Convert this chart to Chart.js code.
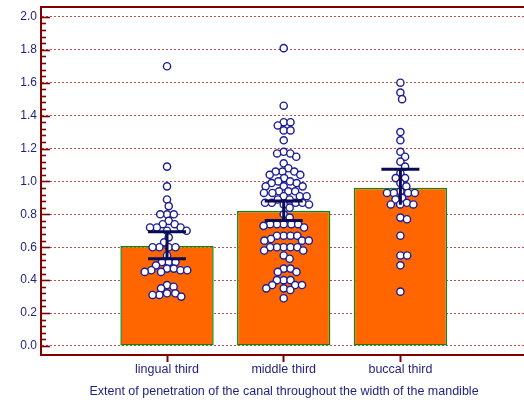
<!DOCTYPE html>
<html><head><meta charset="utf-8">
<script src="https://cdn.jsdelivr.net/npm/chart.js@4.4.0/dist/chart.umd.min.js"></script>
<style>
html,body{margin:0;padding:0;background:#fff;overflow:hidden;}
#wrap{width:540px;height:403px;}
</style></head><body>
<div id="wrap"><canvas id="c" width="540" height="403"></canvas></div>
<script>
const categories = ['lingual third', 'middle third', 'buccal third'];
const meanValues = [0.608, 0.82, 0.962];
const ciLow = [0.53, 0.762, 0.858];
const ciHigh = [0.694, 0.881, 1.074];
const lowerCapShown = [true, true, false];
const lingualValues = [1.70, 1.09, 0.97, 0.89, 0.85, 0.80, 0.80, 0.80, 0.76, 0.74, 0.74, 0.72, 0.72, 0.72, 0.70, 0.70, 0.66, 0.63, 0.60, 0.60, 0.60, 0.60, 0.55, 0.51, 0.51, 0.51, 0.49, 0.47, 0.47, 0.46, 0.46, 0.46, 0.45, 0.45, 0.37, 0.36, 0.35, 0.32, 0.32, 0.31, 0.31, 0.30];
const middleValues = [1.81, 1.46, 1.36, 1.36, 1.34, 1.31, 1.31, 1.25, 1.18, 1.17, 1.17, 1.15, 1.11, 1.08, 1.06, 1.06, 1.06, 1.04, 1.04, 1.02, 1.00, 1.00, 0.99, 0.99, 0.97, 0.97, 0.97, 0.94, 0.94, 0.94, 0.93, 0.93, 0.91, 0.91, 0.91, 0.89, 0.89, 0.87, 0.87, 0.87, 0.87, 0.86, 0.86, 0.84, 0.80, 0.78, 0.74, 0.74, 0.74, 0.74, 0.74, 0.73, 0.72, 0.67, 0.67, 0.67, 0.67, 0.65, 0.64, 0.64, 0.64, 0.60, 0.60, 0.60, 0.60, 0.60, 0.58, 0.58, 0.55, 0.53, 0.47, 0.47, 0.45, 0.45, 0.40, 0.40, 0.40, 0.37, 0.37, 0.37, 0.35, 0.35, 0.34, 0.29];
const buccalValues = [1.60, 1.54, 1.50, 1.30, 1.25, 1.18, 1.15, 1.12, 1.09, 1.05, 1.02, 1.02, 0.99, 0.97, 0.94, 0.93, 0.93, 0.93, 0.93, 0.90, 0.89, 0.87, 0.86, 0.86, 0.86, 0.78, 0.77, 0.67, 0.55, 0.55, 0.49, 0.33];
const groupValues = [lingualValues, middleValues, buccalValues];
const yTickValues = [0, 0.2, 0.4, 0.6, 0.8, 1.0, 1.2, 1.4, 1.6, 1.8, 2.0];
const yMinorStep = 0.04;
const xTitle = 'Extent of penetration of the canal throughout the width of the mandible';

const TEXT = '#1e1e82';
const MAROON = '#800000';
const FONT = "'Liberation Sans', Arial, sans-serif";

const decor = {
  id: 'decor',
  afterDatasetsDraw(chart) {
    const {ctx, scales: {x, y}} = chart;
    ctx.save();
    ctx.strokeStyle = '#0b0b55';
    ctx.lineWidth = 3;
    for (let i = 0; i < categories.length; i++) {
      const cx = x.getPixelForValue(i + 1);
      const yl = y.getPixelForValue(ciLow[i]);
      const yh = y.getPixelForValue(ciHigh[i]);
      ctx.beginPath();
      ctx.moveTo(cx, yl); ctx.lineTo(cx, yh);
      ctx.moveTo(cx - 19, yh); ctx.lineTo(cx + 19, yh);
      if (lowerCapShown[i]) { ctx.moveTo(cx - 19, yl); ctx.lineTo(cx + 19, yl); }
      ctx.stroke();
    }
    ctx.restore();
  },
  afterDraw(chart) {
    const {ctx, chartArea: a, scales: {y}} = chart;
    ctx.save();
    ctx.strokeStyle = MAROON;
    ctx.lineWidth = 2;
    ctx.beginPath();
    ctx.moveTo(a.left - 1, a.top); ctx.lineTo(chart.width, a.top);
    ctx.stroke();
    ctx.lineWidth = 1.6;
    const maxV = yTickValues[yTickValues.length - 1];
    const n = Math.round(maxV / yMinorStep);
    for (let i = 0; i <= n; i++) {
      const v = i * yMinorStep;
      const py = Math.round(y.getPixelForValue(v)) + 0.5;
      const len = (i % 5 === 0) ? 9 : 5;
      ctx.beginPath();
      ctx.moveTo(a.left, py); ctx.lineTo(a.left + len, py);
      ctx.stroke();
    }
    ctx.restore();
  }
};

const chart = new Chart(document.getElementById('c'), {
  type: 'bar',
  data: {
    datasets: [
      {
        type: 'scatter',
        data: [],
        pointRadius: 3.6,
        pointBorderWidth: 1.4,
        pointBackgroundColor: '#ffffff',
        pointBorderColor: '#1c1c96',
        order: 0
      },
      {
        type: 'bar',
        data: categories.map((c, i) => ({x: i + 1, y: meanValues[i]})),
        backgroundColor: '#ff6600',
        borderColor: '#0a8a0a',
        borderWidth: 1.5,
        borderSkipped: false,
        categoryPercentage: 1,
        barPercentage: 0.8,
        order: 1
      }
    ]
  },
  options: {
    responsive: false,
    animation: false,
    events: [],
    layout: {padding: {top: 7, left: 0, right: 13, bottom: 0}},
    plugins: {legend: {display: false}, tooltip: {enabled: false}},
    scales: {
      x: {
        type: 'linear',
        offset: false,
        min: -0.08,
        max: 4.085,
        afterBuildTicks: s => { s.ticks = categories.map((c, i) => ({value: i + 1})); },
        afterFit: s => { s.height = 48; s.paddingLeft = 0; s.paddingRight = 0; },
        ticks: {
          color: TEXT, font: {family: FONT, size: 12.5}, padding: 0, maxRotation: 0, autoSkip: false,
          callback: v => categories[Math.round(v) - 1] || ''
        },
        grid: {offset: false, drawOnChartArea: false, drawTicks: true, tickLength: 7, tickColor: MAROON, tickWidth: 2},
        border: {display: true, color: MAROON, width: 2},
        title: {display: true, text: xTitle, color: TEXT, font: {family: FONT, size: 12.5}, padding: {top: 0, bottom: 4}}
      },
      y: {
        type: 'linear',
        min: -0.055,
        max: 2.06,
        afterBuildTicks: s => { s.ticks = yTickValues.map(v => ({value: v})); },
        afterFit: s => { s.width = 41; s.paddingTop = 0; s.paddingBottom = 0; },
        ticks: {color: TEXT, font: {family: FONT, size: 12}, padding: 4, callback: v => Number(v).toFixed(1)},
        grid: {drawTicks: false, color: '#c05050', lineWidth: 1},
        border: {display: true, color: MAROON, width: 2, dash: [2, 2]}
      }
    }
  },
  plugins: [decor]
});

function swarm(values, idx) {
  const xs = chart.scales.x, ys = chart.scales.y;
  const pxPerX = xs.getPixelForValue(1) - xs.getPixelForValue(0);
  const D = 6.8;
  const placed = [];
  const out = [];
  const sorted = values.slice().sort((a, b) => b - a);
  for (const v of sorted) {
    const py = ys.getPixelForValue(v);
    const cands = [0];
    for (const p of placed) {
      const dy = Math.abs(p.y - py);
      if (dy < D) {
        const dx = Math.sqrt(D * D - dy * dy);
        cands.push(p.x + dx, p.x - dx);
      }
    }
    cands.sort((a, b) => (Math.abs(a) - Math.abs(b)) || (b - a));
    let chosen = 0;
    for (const c of cands) {
      if (placed.every(p => (p.x - c) ** 2 + (p.y - py) ** 2 >= D * D - 0.01)) { chosen = c; break; }
    }
    placed.push({x: chosen, y: py});
    out.push({x: idx + 1 + chosen / pxPerX, y: v});
  }
  return out;
}

chart.data.datasets[0].data = groupValues.flatMap((vals, i) => swarm(vals, i));
chart.update('none');
</script>
</body></html>
